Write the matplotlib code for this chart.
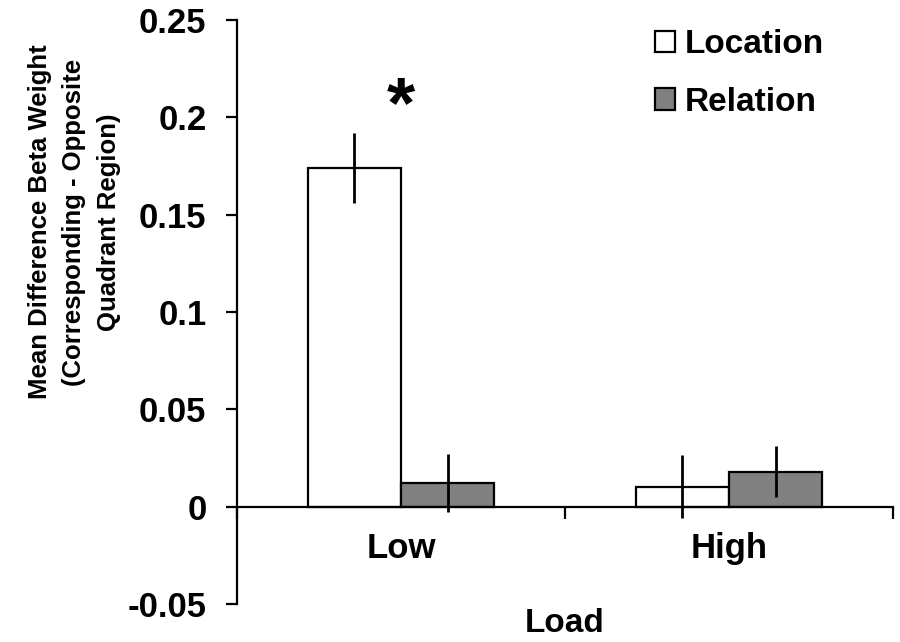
import matplotlib.pyplot as plt
import numpy as np

plt.rcParams['font.family'] = ['Liberation Sans', 'DejaVu Sans']
plt.rcParams['font.weight'] = 'bold'

# data
loads = ['Low', 'High']
series = ['Location', 'Relation']
location_mean = [0.174, 0.0103]
location_err = [0.018, 0.016]
relation_mean = [0.0123, 0.018]
relation_err = [0.015, 0.013]
bar_colors = ['white', '#808080']

fig = plt.figure(figsize=(9, 6.42), dpi=100)
ax = fig.add_axes([237/900, 38/642, 656/900, 584/642])

x = np.arange(len(loads))
w = 0.284
ax.bar(x - w/2, location_mean, w, color=bar_colors[0], edgecolor='black', linewidth=1.6, label=series[0], zorder=2)
ax.bar(x + w/2, relation_mean, w, color=bar_colors[1], edgecolor='black', linewidth=1.6, label=series[1], zorder=2)
ax.errorbar(x - w/2, location_mean, yerr=location_err, fmt='none', ecolor='black', elinewidth=2, capsize=0, zorder=3)
ax.errorbar(x + w/2, relation_mean, yerr=relation_err, fmt='none', ecolor='black', elinewidth=2, capsize=0, zorder=3)

# significance star
ax.text(x[0], 0.205, '*', ha='center', va='center', fontsize=52, fontweight='bold')

ax.set_xlim(-0.5, 1.5)
ax.set_ylim(-0.05, 0.25)
ax.set_yticks([-0.05, 0, 0.05, 0.1, 0.15, 0.2, 0.25])
ax.set_yticklabels(['-0.05', '0', '0.05', '0.1', '0.15', '0.2', '0.25'])

ax.spines['top'].set_visible(False)
ax.spines['right'].set_visible(False)
ax.spines['bottom'].set_position(('data', 0))
ax.spines['left'].set_linewidth(1.6)
ax.spines['bottom'].set_linewidth(1.6)

# boundaries as major ticks, names as minor ticks
ax.set_xticks([-0.5, 0.5, 1.5])
ax.set_xticklabels([])
ax.set_xticks(x, minor=True)
ax.set_xticklabels(loads, minor=True)
ax.tick_params(axis='x', which='major', direction='out', length=8.5, width=1.6)
ax.tick_params(axis='x', which='minor', length=0, pad=18, labelsize=25)
ax.tick_params(axis='y', direction='out', length=8, width=1.6, pad=14, labelsize=25)

ax.set_xlabel('Load', fontsize=24, fontweight='bold')
ax.xaxis.set_label_coords(0.5, -0.006)
ax.set_ylabel('Mean Difference Beta Weight\n(Corresponding - Opposite\nQuadrant Region)',
              fontsize=18.5, fontweight='bold', linespacing=1.55)
ax.yaxis.set_label_coords(-0.177, 0.654)

ax.legend(loc='upper left', bbox_to_anchor=(655/900, 1 - 29/642), bbox_transform=fig.transFigure,
          frameon=False, fontsize=24, handlelength=0.6, handleheight=0.6, handletextpad=0.3,
          labelspacing=0.8, borderaxespad=0, borderpad=0)

fig.savefig('out.png', dpi=100)
